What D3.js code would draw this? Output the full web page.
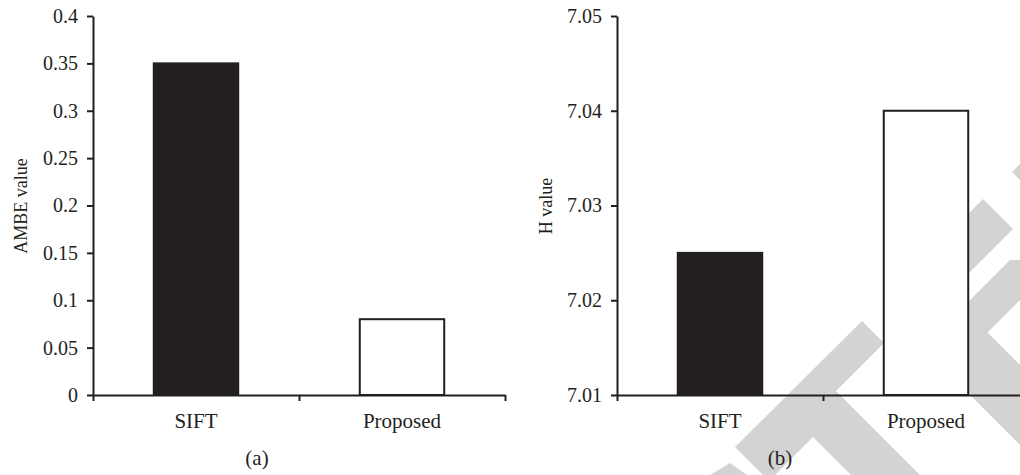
<!DOCTYPE html>
<html>
<head>
    <title>AMBE and H value comparison</title>
    <script src="https://d3js.org/d3.v7.min.js"></script>
    <style>
        body { margin: 0; background: #fff; }
        svg { display: block; }
        text { font-family: "Liberation Serif", "DejaVu Serif", serif; fill: #231f20; }
        .axis path, .axis line { stroke: #231f20; stroke-width: 2px; }
    </style>
</head>
<body>
    <svg width="1020" height="475"></svg>

    <script>
    // data
    const categories = ["SIFT", "Proposed"];
    const ambeValues = [0.35, 0.08];
    const hValues = [7.025, 7.04];
    const ambeTicks = [0, 0.05, 0.1, 0.15, 0.2, 0.25, 0.3, 0.35, 0.4];
    const hTicks = [7.01, 7.02, 7.03, 7.04, 7.05];
    const barFills = ["#231f20", "#ffffff"];

    const ink = "#231f20";
    const svg = d3.select("svg");

    // grey "retracted" watermark behind the right panel
    const watermark = [
        [[735, 447], [862, 321], [884, 343], [836, 391], [920, 475], [851, 475], [813, 437], [775, 475], [763, 475]],
        [[710, 475], [730, 463], [747, 475]],
        [[891, 291], [983, 199], [1013, 229], [921, 321]],
        [[887, 312], [927, 272], [1130, 475], [1050, 475]],
        [[940, 330], [1010, 260], [1060, 260], [970, 350]],
        [[1012, 172], [1022, 162], [1022, 182]]
    ];
    svg.append("g").selectAll("polygon")
        .data(watermark)
        .enter().append("polygon")
        .attr("points", d => d.map(p => p.join(",")).join(" "))
        .style("fill", "#d3d3d3");

    function drawPanel(opt) {
        const g = svg.append("g");

        const y = d3.scaleLinear()
            .domain(opt.domain)
            .range([395, 16]);

        const x = d3.scaleBand()
            .domain(categories)
            .range([opt.left, opt.left + 412])
            .paddingInner(0.59)
            .paddingOuter(0.295);

        // category boundaries for the tick marks
        const xb = d3.scaleLinear()
            .domain([0, categories.length])
            .range([opt.left, opt.left + 412]);

        // bars
        g.selectAll("rect")
            .data(opt.values)
            .enter().append("rect")
            .attr("x", (d, i) => x(categories[i]))
            .attr("y", d => y(d))
            .attr("width", x.bandwidth())
            .attr("height", d => y(opt.domain[0]) - y(d))
            .style("fill", (d, i) => barFills[i])
            .style("stroke", ink)
            .style("stroke-width", 2);

        // y axis
        g.append("g")
            .attr("class", "axis")
            .attr("transform", `translate(${opt.left},0)`)
            .call(d3.axisLeft(y).tickValues(opt.ticks).tickSize(6).tickSizeOuter(0)
                .tickPadding(9).tickFormat(d => String(d)))
            .call(a => a.selectAll("text").style("font-size", "20px"));

        // x axis: boundary ticks
        g.append("g")
            .attr("class", "axis")
            .attr("transform", "translate(0,395)")
            .call(d3.axisBottom(xb).tickValues(d3.range(categories.length + 1))
                .tickSize(6).tickSizeOuter(0).tickFormat(""));

        // x axis: category labels
        g.append("g")
            .attr("transform", "translate(0,395)")
            .call(d3.axisBottom(x).tickSize(0).tickPadding(18))
            .call(a => a.select(".domain").remove())
            .call(a => a.selectAll("text").style("font-size", "21px"));

        // axis title
        g.append("text")
            .attr("transform", `translate(${opt.titleX},206) rotate(-90)`)
            .attr("text-anchor", "middle")
            .style("font-size", "18px")
            .text(opt.title);

        // panel label
        g.append("text")
            .attr("x", opt.labelX)
            .attr("y", 465)
            .attr("text-anchor", "middle")
            .style("font-size", "21px")
            .text(opt.label);
    }

    drawPanel({ left: 93, domain: [0, 0.4], ticks: ambeTicks, values: ambeValues,
                title: "AMBE value", titleX: 27, label: "(a)", labelX: 257 });
    drawPanel({ left: 617, domain: [7.01, 7.05], ticks: hTicks, values: hValues,
                title: "H value", titleX: 552, label: "(b)", labelX: 780 });
    </script>
</body>
</html>
